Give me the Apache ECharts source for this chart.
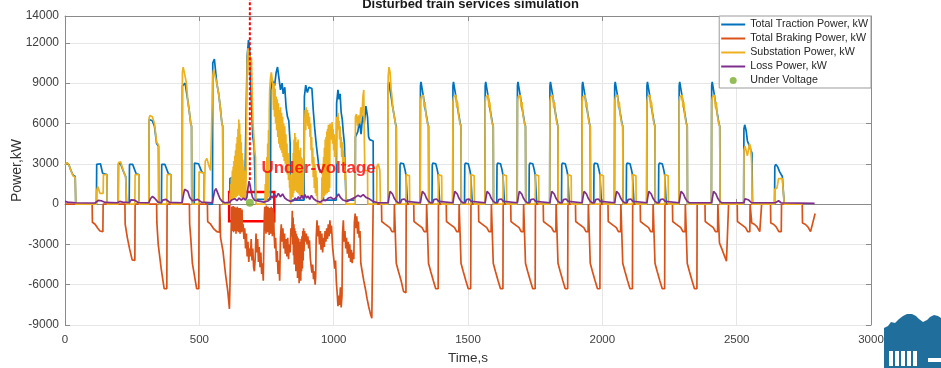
<!DOCTYPE html>
<html>
<head>
<meta charset="utf-8">
<title>Disturbed train services simulation</title>
<script src="https://cdn.jsdelivr.net/npm/echarts/dist/echarts.min.js"></script>
<style>
  html, body { margin: 0; padding: 0; background: #fff; }
  #chart { width: 941px; height: 368px; }
</style>
</head>
<body>
<div id="chart"></div>
<script>
// time [s], power [kW]
const tractionPower = [
  [0,2900],[8,3050],[15,2900],[22,2500],[30,2150],[38,2050],[40,0],
  [117,0],[118,2950],[132,3000],[140,2300],[156,2200],[157,0],
  [198,0],[199,3000],[207,3000],[217,2450],[226,2050],[229,0],
  [239,0],[240,2950],[252,2950],[265,2250],[275,2200],[276,0],
  [312,0],[313,6300],[325,6200],[333,5800],[341,4500],[348,4300],[349,0],
  [359,0],[360,2950],[372,2950],[385,2250],[394,2200],[395,0],
  [436,0],[437,8800],[447,9000],[457,7700],[462,7000],[468,6000],[471,5800],[472,0],
  [481,0],[482,3050],[497,3000],[509,2400],[517,2300],[518,0],
  [549,0],[550,10500],[556,10800],[565,9000],[572,8200],[578,7200],[584,6000],[587,5800],[588,0],
  [613,0],[614,1900],[630,2050],[650,2000],[670,2050],[676,2100],[678,11000],[683,12200],[687,11500],[691,9000],[695,7000],[699,5000],[704,4300],[708,4200],[709,350],
  [765,350],[766,8500],[772,9200],[780,8800],[786,9800],[791,10200],[797,10200],[802,8500],[808,9000],[812,8200],[818,8700],[823,7200],[828,6500],[833,6200],[838,4500],[840,300],
  [890,300],[891,8000],[896,8850],[902,8300],[908,8700],[914,8600],[919,8600],[924,7000],[930,5500],[936,4300],[942,4200],[946,2600],[955,2400],[960,2200],[962,300],
  [1010,300],[1011,7500],[1016,8500],[1020,7800],[1024,8200],[1028,6800],[1032,6300],[1036,5300],[1040,4500],[1044,4400],[1046,300],
  [1080,300],[1081,5000],[1090,5400],[1096,6200],[1102,5200],[1108,6600],[1114,6000],[1120,7300],[1126,6500],[1130,5000],[1134,4800],[1147,4700],[1148,0],
  [1202,0],[1203,8800],[1205,9100],[1210,9000],[1214,8000],[1219,7300],[1225,6600],[1230,6000],[1233,5800],[1234,0],
  [1246,0],[1247,2900],[1249,3050],[1260,3000],[1265,2600],[1269,2200],[1274,2150],[1275,0],
  [1322,0],[1323,8800],[1325,9100],[1330,9000],[1334,8000],[1339,7300],[1345,6600],[1350,6000],[1353,5800],[1354,0],
  [1366,0],[1367,2900],[1369,3050],[1380,3000],[1385,2600],[1389,2200],[1394,2150],[1395,0],
  [1443,0],[1444,8800],[1446,9100],[1451,9000],[1455,8000],[1460,7300],[1466,6600],[1471,6000],[1474,5800],[1475,0],
  [1487,0],[1488,2900],[1490,3050],[1501,3000],[1506,2600],[1510,2200],[1515,2150],[1516,0],
  [1563,0],[1564,8800],[1566,9100],[1571,9000],[1575,8000],[1580,7300],[1586,6600],[1591,6000],[1594,5800],[1595,0],
  [1607,0],[1608,2900],[1610,3050],[1621,3000],[1626,2600],[1630,2200],[1635,2150],[1636,0],
  [1683,0],[1684,8800],[1686,9100],[1691,9000],[1695,8000],[1700,7300],[1706,6600],[1711,6000],[1714,5800],[1715,0],
  [1727,0],[1728,2900],[1730,3050],[1741,3000],[1746,2600],[1750,2200],[1755,2150],[1756,0],
  [1804,0],[1805,8800],[1807,9100],[1812,9000],[1816,8000],[1821,7300],[1827,6600],[1832,6000],[1835,5800],[1836,0],
  [1848,0],[1849,2900],[1851,3050],[1862,3000],[1867,2600],[1871,2200],[1876,2150],[1877,0],
  [1924,0],[1925,8800],[1927,9100],[1932,9000],[1936,8000],[1941,7300],[1947,6600],[1952,6000],[1955,5800],[1956,0],
  [1968,0],[1969,2900],[1971,3050],[1982,3000],[1987,2600],[1991,2200],[1996,2150],[1997,0],
  [2045,0],[2046,8800],[2048,9100],[2053,9000],[2057,8000],[2062,7300],[2068,6600],[2073,6000],[2076,5800],[2077,0],
  [2089,0],[2090,2900],[2092,3050],[2103,3000],[2108,2600],[2112,2200],[2117,2150],[2118,0],
  [2165,0],[2166,8800],[2168,9100],[2173,9000],[2177,8000],[2182,7300],[2188,6600],[2193,6000],[2196,5800],[2197,0],
  [2209,0],[2210,2900],[2212,3050],[2223,3000],[2228,2600],[2232,2200],[2237,2150],[2238,0],
  [2285,0],[2286,8800],[2288,9100],[2293,9000],[2297,8000],[2302,7300],[2308,6600],[2313,6000],[2316,5800],[2317,0],
  [2406,0],[2407,8800],[2409,9100],[2414,9000],[2418,8000],[2423,7300],[2429,6600],[2434,6000],[2437,5800],[2438,0],
  [2526,0],[2527,5600],[2530,5900],[2535,5500],[2540,4700],[2544,4500],[2548,4600],[2553,4000],[2557,3800],[2559,0],
  [2641,0],[2642,2800],[2645,2950],[2652,2800],[2660,2400],[2670,2050],[2676,2000],[2677,0],[2745,0]
];

const brakingPower = [
  [0,0],[101,0],[102,-1350],[112,-1500],[122,-1800],[130,-2000],[141,-2050],[142,0],
  [223,0],[224,-1500],[232,-2500],[240,-3300],[250,-4150],[260,-4200],[261,0],
  [341,0],[342,-1400],[347,-3000],[358,-4800],[369,-6300],[379,-6300],[380,0],
  [463,0],[464,-1500],[468,-2500],[474,-4400],[490,-6300],[498,-6300],[499,0],
  [530,0],[531,-1300],[542,-1500],[552,-1800],[565,-2050],[575,-2100],[576,0],
  [578,0],[579,-2500],[588,-3500],[598,-5300],[606,-6500],[612,-7800],[617,-7700],[619,-1500],
  [620,-200],[621.5,-1900],[623,-300],[624.5,-2000],[626,-150],[627.5,-2100],[629,-400],[630.5,-1900],[632,-200],[633.5,-2000],
  [635,-300],[636.5,-2200],[638,-500],[639.5,-1900],[641,-200],[642.5,-2000],[644,-400],[645.5,-2100],[647,-300],[648.5,-1900],
  [650,-500],[651.5,-2200],[653,-300],[654.5,-2000],[656,-600],[657.5,-2100],[659,-400],[660.5,-2000],
  [663,-1500],[666,-2600],[669,-1800],[672,-3300],[675,-2200],[678,-3900],[681,-2800],[684,-4300],[687,-3300],[690,-3900],
  [693,-2600],[696,-4200],[699,-3300],[702,-4700],[705,-5000],[708,-4000],[711,-2200],[714,-3600],[717,-2600],[720,-4300],
  [723,-3200],[726,-4700],[729,-3600],[732,-5200],[735,-4400],[738,-5700],[740,-3000],[742,-1000],
  [743.5,-200],[745,-2000],[746.5,-300],[748,-2200],[749.5,-100],[751,-1900],[752.5,-400],[754,-2100],[755.5,-200],[757,-2000],
  [758.5,-500],[760,-2300],[761.5,-300],[763,-1900],[764.5,-400],[766,-2200],[767.5,-200],[769,-2000],[770.5,-500],[772,-2400],
  [773.5,-300],[775,-2100],[776.5,-600],[778,-2000],
  [781,-3300],[784,-2500],[787,-4300],[790,-3500],[793,-5200],[796,-4200],[799,-5700],[802,-2500],[805,-1500],[808,-2800],
  [811,-1800],[814,-3300],[817,-2200],[820,-3700],[823,-2600],[826,-3900],[829,-2500],[832,-4100],[835,-3000],[838,-3600],
  [841,-1800],[844,-2400],
  [846,-500],[847.5,-3000],[849,-1000],[850.5,-3800],[852,-1500],[853.5,-4500],[855,-1800],[856.5,-4200],[858,-2000],[859.5,-5000],
  [861,-2200],[862.5,-4600],[864,-2400],[865.5,-5500],[867,-2500],[868.5,-5000],[870,-2600],[871.5,-5900],[873,-2800],[874.5,-5300],
  [876,-3000],[877.5,-5700],[879,-2600],[880.5,-5000],[882,-2400],[883.5,-4800],[885,-2000],[886.5,-4200],[888,-1800],[889.5,-3500],
  [892,-2000],[895,-2800],[898,-2200],[901,-3000],[904,-2400],[907,-3300],[910,-2700],[913,-4000],[916,-4600],[919,-5100],
  [922,-4500],[925,-5600],[928,-5000],[931,-6000],[933,-5400],[935,-2500],[938,-1200],[941,-2400],[944,-1600],[947,-3000],
  [950,-2000],[953,-3400],[956,-2200],[959,-3600],[962,-2500],[965,-3200],[968,-2000],[971,-2800],[974,-1800],[977,-2600],
  [980,-1500],[983,-2400],[986,-1200],[989,-2200],[992,-1600],[996,-3200],[1000,-4000],[1004,-4800],[1007,-4200],[1010,-5800],
  [1013,-6600],[1016,-7600],[1019,-6800],[1022,-7500],[1025,-6200],[1028,-7700],[1031,-6800],[1033,-2200],[1036,-1200],[1039,-2800],
  [1042,-2000],[1045,-3300],[1048,-2500],[1051,-3700],[1054,-2800],[1057,-4000],[1060,-3000],[1063,-4300],[1066,-3400],[1069,-4400],
  [1072,-3600],[1075,-4100],[1077,-1400],[1080,-700],[1083,-1800],[1086,-900],[1089,-2200],[1092,-1300],[1095,-2500],[1098,-2000],
  [1101,-4400],[1106,-5000],[1112,-5700],[1118,-6300],[1124,-7000],[1130,-7600],[1136,-8100],[1142,-8500],[1146,-8400],[1147,0],
  [1178,0],[1179,-1300],[1189,-1450],[1199,-1600],[1209,-1750],[1217,-2050],[1225,-2050],[1226,0],
  [1232,0],[1233,-4400],[1241,-5000],[1251,-5700],[1260,-6500],[1269,-6600],[1270,0],
  [1298,0],[1299,-1300],[1309,-1450],[1319,-1600],[1329,-1750],[1337,-2050],[1345,-2050],[1346,0],
  [1352,0],[1353,-4400],[1361,-5000],[1371,-5700],[1380,-6300],[1389,-6300],[1390,0],
  [1419,0],[1420,-1300],[1430,-1450],[1440,-1600],[1450,-1750],[1458,-2050],[1466,-2050],[1467,0],
  [1473,0],[1474,-4400],[1482,-5000],[1492,-5700],[1501,-6300],[1510,-6300],[1511,0],
  [1539,0],[1540,-1300],[1550,-1450],[1560,-1600],[1570,-1750],[1578,-2050],[1586,-2050],[1587,0],
  [1593,0],[1594,-4400],[1602,-5000],[1612,-5700],[1621,-6300],[1630,-6300],[1631,0],
  [1659,0],[1660,-1300],[1670,-1450],[1680,-1600],[1690,-1750],[1698,-2050],[1706,-2050],[1707,0],
  [1713,0],[1714,-4400],[1722,-5000],[1732,-5700],[1741,-6300],[1750,-6300],[1751,0],
  [1780,0],[1781,-1300],[1791,-1450],[1801,-1600],[1811,-1750],[1819,-2050],[1827,-2050],[1828,0],
  [1834,0],[1835,-4400],[1843,-5000],[1853,-5700],[1862,-6300],[1871,-6300],[1872,0],
  [1900,0],[1901,-1300],[1911,-1450],[1921,-1600],[1931,-1750],[1939,-2050],[1947,-2050],[1948,0],
  [1954,0],[1955,-4400],[1963,-5000],[1973,-5700],[1982,-6300],[1991,-6300],[1992,0],
  [2021,0],[2022,-1300],[2032,-1450],[2042,-1600],[2052,-1750],[2060,-2050],[2068,-2050],[2069,0],
  [2075,0],[2076,-4400],[2084,-5000],[2094,-5700],[2103,-6300],[2112,-6300],[2113,0],
  [2141,0],[2142,-1300],[2152,-1450],[2162,-1600],[2172,-1750],[2180,-2050],[2188,-2050],[2189,0],
  [2195,0],[2196,-4400],[2204,-5000],[2214,-5700],[2223,-6300],[2232,-6300],[2233,0],
  [2261,0],[2262,-1300],[2272,-1450],[2282,-1600],[2292,-1750],[2300,-2050],[2308,-2050],[2309,0],
  [2315,0],[2316,-4400],[2324,-5000],[2334,-5700],[2343,-6300],[2352,-6300],[2353,0],
  [2382,0],[2383,-1300],[2393,-1450],[2403,-1600],[2413,-1750],[2421,-2050],[2429,-2050],[2430,0],
  [2435,0],[2436,-2900],[2444,-3300],[2462,-4250],[2469,-4250],[2470,0],
  [2502,0],[2503,-1300],[2513,-1450],[2523,-1600],[2533,-1750],[2541,-2050],[2549,-2050],[2550,0],
  [2555,0],[2556,-1400],[2566,-1500],[2576,-1700],[2586,-2050],[2592,-2050],[2593,0],
  [2626,0],[2627,-1400],[2637,-1500],[2647,-1700],[2657,-2050],[2666,-2050],[2667,0],
  [2744,0],[2745,-1400],[2755,-1500],[2765,-1700],[2775,-2050],[2782,-2100],[2792,-700]
];

const substationPower = [
  [0,2900],[8,3100],[15,2900],[22,2500],[30,2100],[38,2000],[40,0],
  [117,0],[118,1000],[122,1300],[126,1200],[130,800],[142,800],[143,2200],[156,2200],[157,0],
  [198,0],[199,3100],[207,3150],[217,2500],[226,2000],[229,0],
  [260,0],[261,2200],[275,2200],[276,0],
  [312,0],[313,6400],[316,6600],[325,6500],[333,6000],[341,4600],[348,4400],[349,0],
  [379,0],[380,2200],[394,2200],[395,0],
  [436,0],[437,9800],[440,10200],[447,10200],[452,9000],[457,7700],[462,7000],[468,6000],[471,5800],[472,0],
  [498,0],[499,2400],[517,2300],[518,0],
  [521,0],[522,3200],[528,3400],[535,2900],[542,2500],[549,2400],
  [550,9500],[553,10000],[558,10000],[565,9000],[572,8200],[578,7200],[584,6000],[587,5800],[588,0],
  [613,0],[614,800],[615.5,200],[617,1500],[618.5,300],[620,2000],[621.5,400],[623,2500],[624.5,300],[626,2800],
  [627.5,500],[629,3200],[630.5,400],[632,3600],[633.5,600],[635,4000],[636.5,500],[638,4500],[639.5,700],[641,5000],
  [642.5,600],[644,5600],[645.5,800],[647,6300],[648.5,700],[650,6000],[651.5,600],[653,5200],[654.5,500],[656,4600],
  [657.5,600],[659,3800],[660.5,400],[662,3300],[663.5,500],[665,2800],[666.5,400],[668,2500],[669.5,300],[671,2200],
  [672.5,400],[674,2000],[676,2000],[678,10500],[681,11600],[684,11200],[686,9600],[688,11000],[691,10900],[694,10800],
  [697,8000],[700,6000],[703,5000],[706,4000],[709,3500],[711,0],
  [744,0],[745.5,1500],[747,200],[748.5,2500],[750,300],[751.5,3500],[753,400],[754.5,4500],[756,500],[757.5,5500],
  [759,600],[760.5,7000],[762,8500],[765,9400],[768,9800],[771,9800],[774,8800],[776,7000],[778,9000],[780,6500],
  [782,8600],[784,6000],[786,8000],[788,5500],[790,7800],[792,5000],[794,7500],[796,4500],[798,7000],[800,4200],
  [802,7200],[804,4000],[806,6800],[808,3800],[810,6500],[812,3500],[814,6000],[816,3200],[818,5800],[820,3000],
  [822,5200],[824,2600],[826,4500],[828,2200],[830,3800],[832,1800],[834,3000],[836,1200],[838,2200],[840,0],
  [845,0],[846.5,2500],[848,500],[849.5,3800],[851,800],[852.5,4800],[854,1000],[855.5,5300],[857,1200],[858.5,5000],
  [860,1000],[861.5,4600],[863,900],[864.5,4200],[866,800],[867.5,4800],[869,1000],[870.5,4000],[872,700],[873.5,3600],
  [875,600],[876.5,4200],[878,800],[879.5,3500],[881,600],[882.5,3000],[884,500],[885.5,3400],[887,700],[888.5,2800],
  [890,3500],[892,6000],[894,7000],[896,5500],[898,7200],[900,6000],[902,7000],[904,5800],[906,6800],[908,5600],
  [910,6500],[912,5000],[914,6000],[916,4000],[918,5000],[920,3000],[922,4200],[924,2000],[926,3500],[928,1200],
  [930,3000],[932,800],[934,2500],[936,600],[938,2000],[940,0],
  [955,0],[956.5,2000],[958,300],[959.5,3000],[961,500],[962.5,3500],[964,600],[965.5,4200],[967,800],[968.5,4800],
  [970,700],[971.5,5000],[973,900],[974.5,5400],[976,800],[977.5,5600],[979,1000],[980.5,5900],[982,900],[983.5,5700],
  [985,1200],[986.5,6000],[988,5200],[990,5800],[992,4800],[994,6100],[996,4500],[998,5600],[1000,4000],[1002,5200],
  [1004,3500],[1006,4800],[1008,3000],[1010,5000],[1012,6500],[1014,5500],[1016,6800],[1018,5600],[1020,6200],[1022,4800],
  [1024,5800],[1026,4200],[1028,5000],[1030,3500],[1032,4600],[1034,3000],[1036,4000],[1038,2500],[1040,3500],[1042,1800],
  [1044,2500],[1046,0],
  [1080,0],[1081,6500],[1085,6700],[1089,5800],[1093,6600],[1097,6000],[1101,7200],[1105,6500],[1109,8000],[1112,8500],
  [1114,5000],[1116,2500],[1126,2500],[1127,0],
  [1160,0],[1161,2800],[1166,3000],[1172,2500],[1174,0],
  [1202,0],[1203,9500],[1206,10200],[1210,9800],[1214,8500],[1217,8000],[1220,7200],[1225,6600],[1230,6000],[1233,5600],[1234,0],
  [1269,0],[1270,2200],[1282,2100],[1283,0],
  [1322,0],[1323,7600],[1326,8000],[1331,7900],[1334,8100],[1337,7200],[1340,7600],[1344,6600],[1349,6000],[1353,5800],[1354,0],
  [1389,0],[1390,2200],[1402,2100],[1403,0],
  [1443,0],[1444,7600],[1447,8000],[1452,7900],[1455,8100],[1458,7200],[1461,7600],[1465,6600],[1470,6000],[1474,5800],[1475,0],
  [1510,0],[1511,2200],[1523,2100],[1524,0],
  [1563,0],[1564,7600],[1567,8000],[1572,7900],[1575,8100],[1578,7200],[1581,7600],[1585,6600],[1590,6000],[1594,5800],[1595,0],
  [1630,0],[1631,2200],[1643,2100],[1644,0],
  [1683,0],[1684,7600],[1687,8000],[1692,7900],[1695,8100],[1698,7200],[1701,7600],[1705,6600],[1710,6000],[1714,5800],[1715,0],
  [1750,0],[1751,2200],[1763,2100],[1764,0],
  [1804,0],[1805,7600],[1808,8000],[1813,7900],[1816,8100],[1819,7200],[1822,7600],[1826,6600],[1831,6000],[1835,5800],[1836,0],
  [1871,0],[1872,2200],[1884,2100],[1885,0],
  [1924,0],[1925,7600],[1928,8000],[1933,7900],[1936,8100],[1939,7200],[1942,7600],[1946,6600],[1951,6000],[1955,5800],[1956,0],
  [1991,0],[1992,2200],[2004,2100],[2005,0],
  [2045,0],[2046,7600],[2049,8000],[2054,7900],[2057,8100],[2060,7200],[2063,7600],[2067,6600],[2072,6000],[2076,5800],[2077,0],
  [2112,0],[2113,2200],[2125,2100],[2126,0],
  [2165,0],[2166,7600],[2169,8000],[2174,7900],[2177,8100],[2180,7200],[2183,7600],[2187,6600],[2192,6000],[2196,5800],[2197,0],
  [2232,0],[2233,2200],[2245,2100],[2246,0],
  [2285,0],[2286,7600],[2289,8000],[2294,7900],[2297,8100],[2300,7200],[2303,7600],[2307,6600],[2312,6000],[2316,5800],[2317,0],
  [2406,0],[2407,7600],[2410,8000],[2415,7900],[2418,8100],[2421,7200],[2424,7600],[2428,6600],[2433,6000],[2437,5800],[2438,0],
  [2526,0],[2527,4000],[2531,4300],[2536,4200],[2540,3600],[2544,3700],[2548,4500],[2552,4200],[2556,3000],[2558,0],
  [2641,0],[2642,1100],[2650,1200],[2656,1900],[2670,1900],[2676,2000],[2677,0],[2745,0]
];

const lossPower = [
  [0,200],[10,150],[40,100],[112,80],[118,150],[124,280],[135,250],[150,120],[196,100],[204,200],[215,150],
  [240,120],[246,320],[258,300],[272,120],[312,100],[318,400],[325,560],[333,450],[346,150],[358,100],[364,300],
  [376,350],[390,120],[436,100],[440,600],[445,1100],[451,1200],[457,950],[464,500],[474,250],[484,300],[494,350],
  [508,150],[548,100],[552,500],[557,1000],[562,1150],[569,800],[577,400],[585,200],[596,100],[614,150],[620,300],
  [626,200],[632,400],[640,250],[648,450],[656,300],[664,450],[672,300],[677,500],[681,1200],[685,1700],[689,1400],
  [693,900],[698,500],[705,300],[712,200],[740,150],[758,250],[766,600],[772,450],[778,750],[786,500],[794,800],
  [802,550],[810,750],[818,450],[828,300],[840,200],[850,250],[857,450],[863,300],[869,550],[875,350],[881,650],
  [887,400],[893,700],[899,450],[905,600],[911,350],[917,650],[925,400],[935,250],[950,150],[960,300],[970,250],
  [980,450],[990,500],[1000,350],[1010,500],[1018,750],[1025,500],[1035,300],[1050,200],[1065,350],[1080,500],
  [1090,650],[1100,550],[1110,700],[1120,500],[1132,400],[1146,200],[1165,100],
  [1203,100],[1206,500],[1210,950],[1215,1050],[1219,750],[1225,450],[1233,200],[1241,100],[1249,100],[1253,330],[1263,380],[1271,200],[1277,100],
  [1323,100],[1326,500],[1330,950],[1335,1000],[1339,750],[1345,450],[1353,200],[1361,100],[1369,100],[1373,330],[1383,380],[1391,200],[1397,100],
  [1444,100],[1447,500],[1451,950],[1456,1000],[1460,750],[1466,450],[1474,200],[1482,100],[1490,100],[1494,330],[1504,380],[1512,200],[1518,100],
  [1564,100],[1567,500],[1571,950],[1576,1000],[1580,750],[1586,450],[1594,200],[1602,100],[1610,100],[1614,330],[1624,380],[1632,200],[1638,100],
  [1684,100],[1687,500],[1691,950],[1696,1000],[1700,750],[1706,450],[1714,200],[1722,100],[1730,100],[1734,330],[1744,380],[1752,200],[1758,100],
  [1805,100],[1808,500],[1812,950],[1817,1000],[1821,750],[1827,450],[1835,200],[1843,100],[1851,100],[1855,330],[1865,380],[1873,200],[1879,100],
  [1925,100],[1928,500],[1932,950],[1937,1000],[1941,750],[1947,450],[1955,200],[1963,100],[1971,100],[1975,330],[1985,380],[1993,200],[1999,100],
  [2046,100],[2049,500],[2053,950],[2058,1000],[2062,750],[2068,450],[2076,200],[2084,100],[2092,100],[2096,330],[2106,380],[2114,200],[2120,100],
  [2166,100],[2169,500],[2173,950],[2178,1000],[2182,750],[2188,450],[2196,200],[2204,100],[2212,100],[2216,330],[2226,380],[2234,200],[2240,100],
  [2286,100],[2289,500],[2293,950],[2298,1000],[2302,750],[2308,450],[2316,200],[2324,100],
  [2407,100],[2410,500],[2414,950],[2419,1000],[2423,750],[2429,450],[2437,200],[2445,100],
  [2527,100],[2531,400],[2536,470],[2545,300],[2555,100],[2644,100],[2648,220],[2656,250],[2665,100],[2790,60]
];

const underVoltage = [[688, 100]];

// annotation marks (data coordinates)
const markerLine = [[688, 15400], [688, 1800]];
const markerBox = [[611, 900], [779, -1270]];
const markerText = [[731, 2680]];

const xTicks = { min: 0, max: 3000, step: 500 };
const yTicks = { min: -9000, max: 14000, step: 3000 };

const seriesNames = ['Total Traction Power, kW', 'Total Braking Power, kW', 'Substation Power, kW', 'Loss Power, kW', 'Under Voltage'];
const seriesColors = ['#0072BD', '#D95319', '#EDB120', '#7E2F8E', '#77AC30'];

const chart = echarts.init(document.getElementById('chart'), null, { renderer: 'canvas' });

const font = 'Liberation Sans, Arial, Helvetica, sans-serif';
const axisGray = '#8a8a8a';
const lineIcon = 'path://M0,0H24V2H0Z';

function lineSeries(name, data, color) {
  return {
    name: name,
    type: 'line',
    data: data,
    symbol: 'none',
    showSymbol: false,
    lineStyle: { width: 1.7, color: color },
    itemStyle: { color: color },
    emphasis: { disabled: true },
    z: 3
  };
}

const plainNumber = v => String(v);

const option = {
  animation: false,
  backgroundColor: '#fff',
  textStyle: { fontFamily: font },
  title: {
    text: 'Disturbed train services simulation',
    left: 'center',
    top: -7,
    textStyle: { fontSize: 13, fontWeight: 'bold', color: '#1a1a1a', fontFamily: font }
  },
  legend: {
    data: seriesNames.map((n, i) => ({ name: n, icon: i === 4 ? 'circle' : lineIcon })),
    orient: 'vertical',
    right: 70,
    top: 16,
    itemWidth: 24,
    itemHeight: 7,
    itemGap: 3,
    padding: [3, 3, 2, 2],
    backgroundColor: '#fff',
    borderColor: '#9a9a9a',
    borderWidth: 1,
    textStyle: { fontSize: 10.7, color: '#262626', fontFamily: font }
  },
  grid: { left: 65, right: 70, top: 16, bottom: 43, outerBoundsMode: 'none', containLabel: false },
  xAxis: [{
    type: 'value',
    min: xTicks.min, max: xTicks.max, interval: xTicks.step,
    name: 'Time,s', nameLocation: 'middle', nameGap: 26, nameMoveOverlap: false,
    nameTextStyle: { fontSize: 13.5, color: '#333' },
    axisLine: { lineStyle: { color: axisGray, width: 1 } },
    axisTick: { inside: true, length: 5, lineStyle: { color: axisGray } },
    axisLabel: { fontSize: 11.5, color: '#404040', margin: 9, formatter: plainNumber },
    splitLine: { show: true, lineStyle: { color: '#e6e6e6', width: 1 } }
  }, {
    type: 'value', position: 'top',
    min: xTicks.min, max: xTicks.max, interval: xTicks.step,
    axisLine: { show: true, onZero: false, lineStyle: { color: axisGray } },
    axisTick: { show: true, inside: true, length: 5, lineStyle: { color: axisGray } },
    axisLabel: { show: false },
    splitLine: { show: false }
  }],
  yAxis: [{
    type: 'value',
    min: yTicks.min, max: yTicks.max, interval: yTicks.step,
    name: 'Power,kW', nameLocation: 'middle', nameGap: 41, nameMoveOverlap: false,
    nameTextStyle: { fontSize: 14, color: '#333' },
    axisLine: { show: true, onZero: false, lineStyle: { color: axisGray } },
    axisTick: { show: true, inside: true, length: 5, lineStyle: { color: axisGray } },
    axisLabel: { fontSize: 12, color: '#404040', margin: 6, formatter: plainNumber },
    splitLine: { show: true, lineStyle: { color: '#e6e6e6', width: 1 } }
  }, {
    type: 'value', position: 'right',
    min: yTicks.min, max: yTicks.max, interval: yTicks.step,
    axisLine: { show: true, onZero: false, lineStyle: { color: axisGray } },
    axisTick: { show: true, inside: true, length: 5, lineStyle: { color: axisGray } },
    axisLabel: { show: false },
    splitLine: { show: false }
  }],
  series: [
    lineSeries(seriesNames[0], tractionPower, seriesColors[0]),
    lineSeries(seriesNames[1], brakingPower, seriesColors[1]),
    lineSeries(seriesNames[2], substationPower, seriesColors[2]),
    lineSeries(seriesNames[3], lossPower, seriesColors[3]),
    {
      name: 'marker',
      type: 'line',
      data: markerLine,
      symbol: 'none',
      clip: false,
      silent: true,
      lineStyle: { color: '#ff0000', width: 2, type: [3, 2] },
      z: 5,
      markArea: {
        silent: true,
        itemStyle: { color: 'rgba(0,0,0,0)', borderColor: '#ff0000', borderWidth: 2.5 },
        data: [[{ coord: markerBox[0] }, { coord: markerBox[1] }]]
      }
    },
    {
      name: seriesNames[4],
      type: 'scatter',
      data: underVoltage,
      symbolSize: 8,
      itemStyle: { color: seriesColors[4] },
      z: 6
    },
    {
      name: 'label',
      type: 'scatter',
      data: markerText,
      symbolSize: 0,
      silent: true,
      label: {
        show: true, position: 'right', distance: 0,
        formatter: 'Under-voltage',
        fontSize: 17, fontWeight: 'bold', color: '#ff0000', fontFamily: font
      },
      z: 6
    }
  ],
  graphic: [
    {
      type: 'polygon', silent: true,
      shape: { points: [[884,368],[884,328],[888,326],[891,322],[895,323],[899,319],[903,316],[907,314],[912,314],[916,316],[919,319],[923,322],[927,320],[930,317],[934,315],[938,316],[941,318],[941,368]] },
      style: { fill: '#1f6e9c' }
    },
    { type: 'rect', silent: true, shape: { x: 889, y: 351, width: 4, height: 15 }, style: { fill: '#fff' } },
    { type: 'rect', silent: true, shape: { x: 895, y: 351, width: 4, height: 15 }, style: { fill: '#fff' } },
    { type: 'rect', silent: true, shape: { x: 901, y: 351, width: 4, height: 15 }, style: { fill: '#fff' } },
    { type: 'rect', silent: true, shape: { x: 907, y: 351, width: 4, height: 15 }, style: { fill: '#fff' } },
    { type: 'rect', silent: true, shape: { x: 913, y: 351, width: 4, height: 15 }, style: { fill: '#fff' } },
    { type: 'rect', silent: true, shape: { x: 928, y: 358, width: 13, height: 4 }, style: { fill: '#fff' } }
  ]
};

chart.setOption(option);
</script>
</body>
</html>
